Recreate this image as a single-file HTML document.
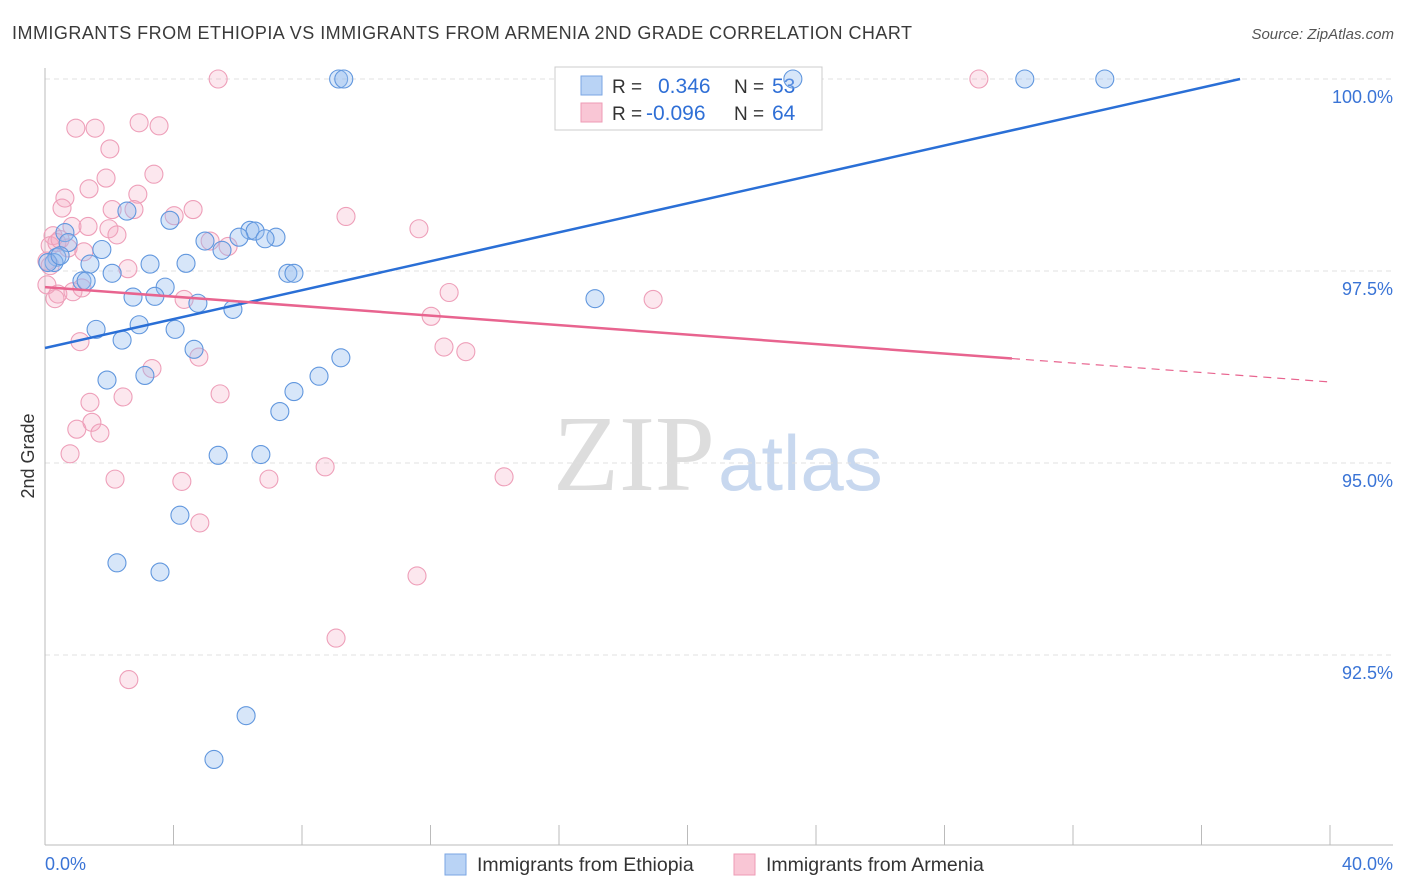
<!DOCTYPE html>
<html><head><meta charset="utf-8"><style>
body{margin:0;background:#fff;font-family:"Liberation Sans",sans-serif;}
#wrap{position:relative;width:1406px;height:892px;overflow:hidden;}
</style></head><body>
<div id="wrap">
<svg id="svg" width="1406" height="892" xmlns="http://www.w3.org/2000/svg">
<text x="12" y="39" font-size="18" fill="#3a3a3a" textLength="900" lengthAdjust="spacing">IMMIGRANTS FROM ETHIOPIA VS IMMIGRANTS FROM ARMENIA 2ND GRADE CORRELATION CHART</text>
<text x="1394" y="39" font-size="15" fill="#555" font-style="italic" text-anchor="end">Source: ZipAtlas.com</text>
<text x="34" y="456" font-size="18" fill="#333" transform="rotate(-90 34 456)" text-anchor="middle">2nd Grade</text>
<text x="553" y="490" font-size="108" fill="#ddd" font-family="Liberation Serif,serif">ZIP</text>
<text x="718" y="490" font-size="78" fill="#c8d8ef">atlas</text>
<g id="grid"></g>
<g>
<rect x="555" y="67" width="267" height="63" fill="#fff" stroke="#ccc"/>
<rect x="581" y="76" width="21" height="19" fill="#b9d3f5" stroke="#7aa6e3"/>
<rect x="581" y="103" width="21" height="19" fill="#f9c6d5" stroke="#ee9bb5"/>
<text x="612" y="93" font-size="19" fill="#333">R = </text><text x="658" y="93" font-size="21" fill="#2f6fd6">0.346</text>
<text x="734" y="93" font-size="19" fill="#333">N = </text><text x="772" y="93" font-size="21" fill="#2f6fd6">53</text>
<text x="612" y="120" font-size="19" fill="#333">R = </text><text x="646" y="120" font-size="21" fill="#2f6fd6">-0.096</text>
<text x="734" y="120" font-size="19" fill="#333">N = </text><text x="772" y="120" font-size="21" fill="#2f6fd6">64</text>
</g>
<g id="pts"></g><g id="lines"></g>
<text x="45" y="870" font-size="18" fill="#3a74d6">0.0%</text>
<text x="1393" y="870" font-size="18" fill="#3a74d6" text-anchor="end">40.0%</text>
<g><rect x="445" y="854" width="21" height="21" fill="#b9d3f5" stroke="#7aa6e3"/><text x="477" y="871" font-size="19.5" fill="#333">Immigrants from Ethiopia</text></g>
<g><rect x="734" y="854" width="21" height="21" fill="#f9c6d5" stroke="#ee9bb5"/><text x="766" y="871" font-size="19.5" fill="#333">Immigrants from Armenia</text></g>
</svg></div>
<script>
const yTicks=[100,97.5,95,92.5];
const yTickLabels=["100.0%","97.5%","95.0%","92.5%"];
const blueX=[9.14,9.3,23.28,30.5,32.99,2.55,3.89,6.38,6.54,6.04,4.98,7.19,6.85,5.51,0.62,0.72,1.77,0.37,0.28,1.4,3.27,4.39,7.56,7.75,2.09,1.15,1.28,3.74,2.74,3.42,4.76,5.85,17.12,1.59,2.93,4.05,2.4,4.64,9.21,1.93,3.11,8.53,7.75,7.31,5.39,6.72,4.2,2.24,3.58,6.26,5.26,0.09,0.47];
const blueY=[100,100,100,100,100,98.28,98.16,98.03,98.02,97.94,97.89,97.94,97.92,97.77,98.0,97.87,97.78,97.68,97.61,97.59,97.59,97.6,97.47,97.47,97.47,97.37,97.37,97.29,97.16,97.17,97.08,97.0,97.14,96.74,96.8,96.74,96.6,96.48,96.37,96.08,96.14,96.13,95.93,95.67,95.1,95.11,94.32,93.7,93.58,91.71,91.14,97.61,97.7];
const pinkX=[5.39,29.07,0.96,1.56,2.93,3.55,2.02,3.39,1.9,1.37,2.89,0.62,0.53,2.09,2.77,4.61,4.02,9.37,11.64,0.84,1.99,1.34,2.24,5.14,5.7,0.25,0.16,0.37,0.47,0.72,1.21,2.58,0.06,0.4,0.87,1.15,0.31,12.58,18.93,4.33,12.02,1.09,12.42,13.1,4.79,3.33,5.45,2.43,1.4,1.46,0.99,1.71,0.78,8.72,14.29,2.18,4.26,6.97,4.82,11.58,9.06,2.61,0.06,0.16];
const pinkY=[100,100,99.36,99.36,99.43,99.39,99.09,98.76,98.71,98.57,98.5,98.45,98.32,98.3,98.3,98.3,98.22,98.21,98.05,98.08,98.05,98.08,97.97,97.89,97.82,97.96,97.83,97.87,97.91,97.8,97.75,97.53,97.32,97.2,97.23,97.28,97.14,97.22,97.13,97.13,96.91,96.58,96.51,96.45,96.38,96.23,95.9,95.86,95.79,95.53,95.44,95.39,95.12,94.95,94.82,94.79,94.76,94.79,94.22,93.53,92.72,92.18,97.63,97.57];
const blueLine=[0,96.497,37.2,100];
const pinkLine=[0,97.29,30.1,96.36,40,96.055];
const X=v=>45+v/40*1285, Y=v=>79+(100-v)/2.5*192;
const NS="http://www.w3.org/2000/svg";
function mk(tag,attrs,parent){const e=document.createElementNS(NS,tag);for(const k in attrs)e.setAttribute(k,attrs[k]);parent.appendChild(e);return e;}
const grid=document.getElementById('grid');
yTicks.forEach((t,i)=>{
 const l=mk('line',{x1:45,x2:1393,y1:Y(t),y2:Y(t),stroke:'#e0e0e0','stroke-dasharray':'5,4'},grid);
 
 
 const tx=mk('text',{x:1393,y:Y(t)+24,'font-size':18,fill:'#3a74d6','text-anchor':'end'},grid);
 tx.textContent=yTickLabels[i];
 
 
});
const ax=mk('line',{x1:45,x2:45,y1:68,y2:845,stroke:'#bbb'},grid);


const bx=mk('line',{x1:45,x2:1393,y1:845,y2:845,stroke:'#bbb'},grid);


for(let i=0;i<=10;i++){const t=mk('line',{x1:X(i*4),x2:X(i*4),y1:825,y2:845,stroke:'#bbb'},grid);
 
 }
const pts=document.getElementById('pts');
pinkX.forEach((x,i)=>{const c=mk('circle',{cx:X(x),cy:Y(pinkY[i]),r:9,fill:'rgba(246,170,195,0.28)',stroke:'#ee9fb9','stroke-width':1.1},pts);
 
 });
blueX.forEach((x,i)=>{const c=mk('circle',{cx:X(x),cy:Y(blueY[i]),r:9,fill:'rgba(150,190,240,0.38)',stroke:'#6197de','stroke-width':1.1},pts);
 
 });
const lines=document.getElementById('lines');
const bl=mk('line',{x1:X(blueLine[0]),y1:Y(blueLine[1]),x2:X(blueLine[2]),y2:Y(blueLine[3]),stroke:'#2a6fd6','stroke-width':2.5},lines);


const pl=mk('line',{x1:X(pinkLine[0]),y1:Y(pinkLine[1]),x2:X(pinkLine[2]),y2:Y(pinkLine[3]),stroke:'#e8648f','stroke-width':2.5},lines);


const pd=mk('line',{x1:X(pinkLine[2]),y1:Y(pinkLine[3]),x2:X(pinkLine[4]),y2:Y(pinkLine[5]),stroke:'#e8648f','stroke-width':1.2,'stroke-dasharray':'8,6'},lines);


</script>
</body></html>
